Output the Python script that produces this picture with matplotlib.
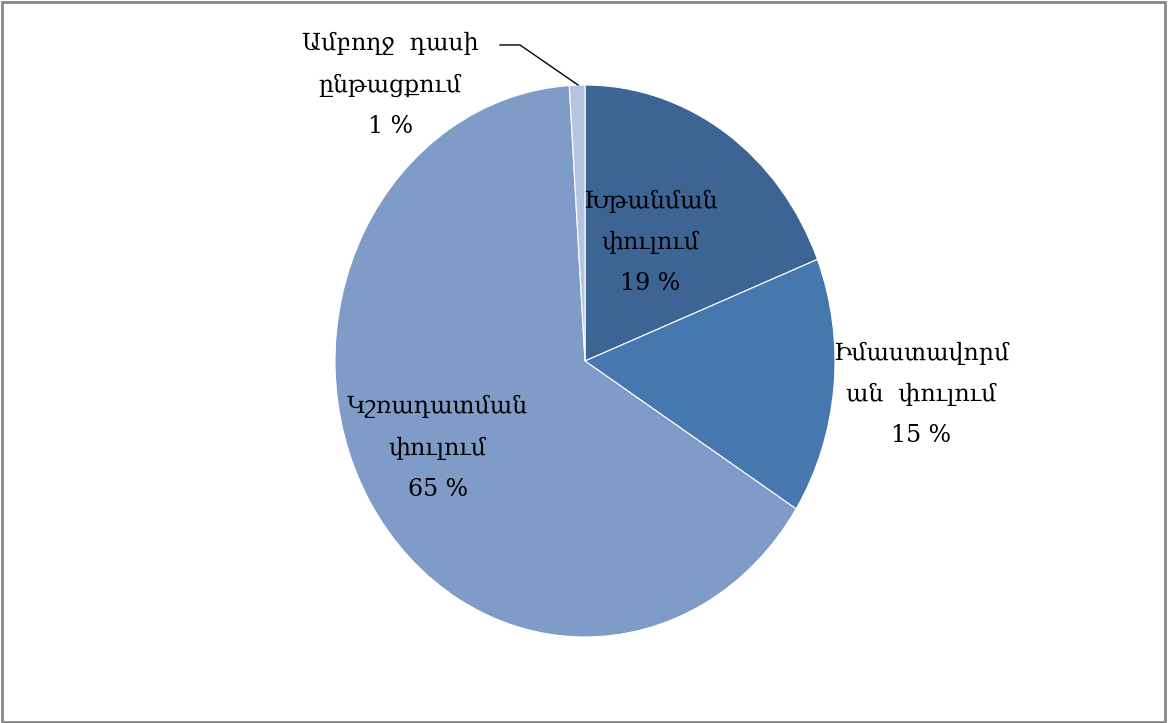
import matplotlib
matplotlib.use("Agg")
from matplotlib import pyplot as plt
from matplotlib.patches import Rectangle

# data
labels = ["Խթանման\nփուլում\n19 %",
          "Իմաստավորմ\nան  փուլում\n15 %",
          "Կշռադատման\nփուլում\n65 %",
          "Ամբողջ  դասի\nընթացքում\n1 %"]
values = [19, 15, 65, 1]
colors = ["#3C6495", "#4777AF", "#7F9BC8", "#B5C5DF"]

# label spots in data coords (radius 1 = pie)
label_pos = [(0.26, 0.43), (1.345, -0.12), (-0.59, -0.315), (-0.78, 1.0)]

fontsize = 17
plt.rcParams['font.family'] = ['DejaVu Serif', 'DejaVu Sans']

fig = plt.figure(figsize=(11.68, 7.23), dpi=100, facecolor='w')
# pie is stretched: 250 px wide radius, 276 px tall radius
ax = fig.add_axes([272.5 / 1168, 17 / 723, 625 / 1168, 690 / 723])
ax.pie(values, colors=colors, startangle=90, counterclock=False,
       wedgeprops=dict(edgecolor='white', linewidth=0.8))
ax.set_aspect('auto')
ax.set_xlim(-1.25, 1.25)
ax.set_ylim(-1.25, 1.25)
ax.axis('off')

for lab, (x, y) in zip(labels, label_pos):
    ax.text(x, y, lab, ha='center', va='center', fontsize=fontsize,
            linespacing=2.0, color='black')

# leader line for the small slice
ax.plot([-0.34, -0.26, -0.028], [1.145, 1.145, 1.0], color='black',
        linewidth=1, clip_on=False)

fig.add_artist(Rectangle((2 / 1168, 1.5 / 723), 1163 / 1168, 720 / 723,
                         transform=fig.transFigure, fill=False,
                         edgecolor='#888888', linewidth=2))

fig.savefig("out.png", dpi=100, facecolor='w')
